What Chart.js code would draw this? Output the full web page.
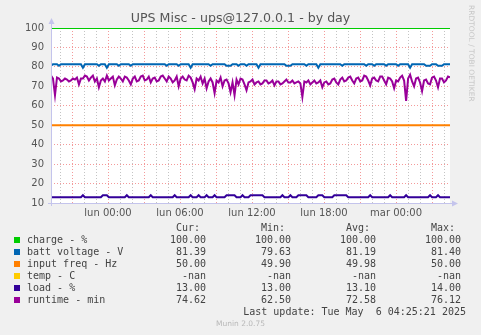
<!DOCTYPE html>
<html><head><meta charset="utf-8">
<script src="https://cdn.jsdelivr.net/npm/chart.js@4/dist/chart.umd.min.js"></script>
<style>
body{margin:0;background:#f0f0f0;}
#wrap{position:relative;width:481px;height:335px;overflow:hidden;background:#f0f0f0;}
canvas{position:absolute;left:0;top:0;}
.t{position:absolute;white-space:pre;}
#title{left:0;width:481px;top:10px;text-align:center;font:12.6px "DejaVu Sans";color:#555;}
#rrd{left:462px;top:5px;font:7.5px "DejaVu Sans";color:#c8c8c8;transform-origin:0 0;transform:rotate(90deg) translate(0,-14px);}
.lg{font:10px "DejaVu Sans Mono";color:#444;line-height:12px;}
.sq{position:absolute;width:6px;height:6px;}
#munin{left:0;width:481px;top:319px;text-align:center;font:7.5px "DejaVu Sans";color:#b8b8b8;}
</style></head><body>
<div id="wrap">
<canvas id="c" width="481" height="335"></canvas>
<div class="t" id="title">UPS Misc - ups@127.0.0.1 - by day</div>
<div class="t" id="rrd">RRDTOOL / TOBI OETIKER</div>
<div id="legend"></div>
<div class="t lg" id="upd" style="right:15px;top:306px;">Last update: Tue May  6 04:25:21 2025</div>
<div class="t" id="munin">Munin 2.0.75</div>
</div>
<script>
// ---- data ----
const xTickHours = [0, 6, 12, 18, 24];
const xTickLabels = ["lun 00:00", "lun 06:00", "lun 12:00", "lun 18:00", "mar 00:00"];
const startHour = -4.75, endHour = 28.5;
const yTickValues = [10, 20, 30, 40, 50, 60, 70, 80, 90, 100];

const seriesNames = ["charge - %", "batt voltage - V", "input freq - Hz", "temp - C", "load - %", "runtime - min"];
const seriesColors = ["#00cc00", "#0066b3", "#ff8000", "#ffcc00", "#330099", "#990099"];
const curVals = ["100.00", "81.39", "50.00", "-nan", "13.00", "74.62"];
const minVals = ["100.00", "79.63", "49.90", "-nan", "13.00", "62.50"];
const avgVals = ["100.00", "81.19", "49.98", "-nan", "13.10", "72.58"];
const maxVals = ["100.00", "81.40", "50.00", "-nan", "14.00", "76.12"];

const chargeVals = [100, 100];
const freqVals = [50, 50];

const battVals = [
 80.6,81.4,81.4,81.4,80.6,81.4,81.4,81.4,81.4,81.4, 81.4,81.4,81.4,81.4,81.4,81.4,79.6,81.4,81.4,81.4,
 81.4,81.4,81.4,81.4,80.6,81.4,81.4,81.4,79.6,81.4, 81.4,81.4,81.4,81.4,80.6,81.4,81.4,81.4,81.4,81.4,
 80.6,81.4,81.4,81.4,81.4,81.4,81.4,81.4,81.4,81.4, 81.4,81.4,81.4,81.4,81.4,81.4,81.4,81.4,80.6,81.4,
 81.4,81.4,81.4,81.4,80.6,81.4,81.4,81.4,81.4,81.4, 79.6,81.4,81.4,81.4,81.4,81.4,81.4,81.4,81.4,81.4,
 80.6,81.4,81.4,81.4,81.4,81.4,81.4,81.4,80.6,80.6, 80.6,81.4,81.4,81.4,80.6,81.4,81.4,81.4,80.6,81.4,
 81.4,81.4,81.4,81.4,79.6,81.4,81.4,81.4,81.4,81.4, 81.4,81.4,81.4,81.4,81.4,81.4,81.4,81.4,80.6,80.6,
 80.6,81.4,81.4,81.4,81.4,81.4,81.4,81.4,80.6,81.4, 81.4,81.4,81.4,81.4,79.6,81.4,81.4,81.4,81.4,81.4,
 81.4,81.4,81.4,81.4,81.4,81.4,80.6,81.4,81.4,81.4, 81.4,81.4,81.4,81.4,81.4,81.4,81.4,81.4,80.6,81.4,
 81.4,81.4,80.6,81.4,81.4,81.4,81.4,81.4,80.6,81.4, 81.4,81.4,81.4,81.4,80.6,81.4,81.4,81.4,81.4,81.4,
 79.6,81.4,81.4,81.4,81.4,81.4,81.4,81.4,80.6,80.6, 80.6,81.4,81.4,81.4,80.6,80.6,80.6,81.4,81.4,81.4,
 81.39];

const loadVals = [
 13,13,13,13,13,13,13,13,13,13, 13,13,13,13,13,13,14,13,13,13,
 13,13,13,13,13,13,14,14,14,13, 13,13,13,13,13,13,13,13,14,13,
 13,13,13,13,13,13,13,13,13,13, 14,13,13,13,13,13,13,13,13,13,
 13,13,14,13,13,13,13,13,13,13, 14,13,13,13,14,13,13,13,14,13,
 13,13,14,13,13,13,13,13,14,14, 14,14,14,13,13,13,14,13,13,13,
 14,14,14,14,14,14,14,13,13,13, 13,13,13,13,13,13,14,13,13,13,
 14,13,13,13,14,14,14,14,14,13, 13,13,13,13,14,14,14,13,13,13,
 13,13,14,14,14,14,14,14,14,13, 13,13,13,13,13,13,13,13,13,13,
 14,13,13,13,13,13,13,13,13,13, 14,13,13,13,13,13,13,13,14,13,
 13,13,13,13,13,13,13,13,13,13, 14,13,13,13,14,13,13,13,13,13,
 13];

const runtimeVals = [
 75.5,74,65.5,74.5,74.0,72.5,73.0,74,73.5,72.5, 73.0,74,73.5,74.5,71.0,74,74.0,75.5,75.0,73,
 74.5,75.5,72.5,74,69.5,73,74.0,72.5,75.5,73, 74.0,75,70.5,73.5,75.0,74,72.5,75,74.5,73,
 71.0,74,75.0,72.5,73.0,75,75.5,73,73.5,75, 72.0,74,74.5,72.5,73.0,75,75.5,74,72.5,75,
 74.0,72,73.0,75,70.0,74,75.0,73.5,73.0,75.5, 74.5,72,68.5,74,73.0,75,71.5,74,69.0,72.5,
 74.0,72,66.5,73,72.0,74.5,70.0,73,73.5,71.5, 67.0,72,65.5,73.5,71.0,74,73.5,71,68.0,72,
 72.5,73.5,71.0,72,72.5,71,71.5,73,73.0,71.5, 72.0,73,70.5,72.5,72.5,71,71.5,72.5,73.5,72,
 72.0,73,71.5,72,72.5,71.5,64.5,72.5,72.0,73, 71.0,72,73.0,71.5,72.0,73,69.5,72,72.5,71,
 71.5,73.5,74.0,72,71.0,73.5,74.5,72.5,73.0,74.5, 75.0,73,71.5,74,74.5,72.5,73.0,75.5,75.0,73,
 70.5,74,74.5,73,72.5,75,75.0,73,71.0,74.5, 74.0,72.5,69.0,73,72.5,74.5,75.5,73,62.5,74,
 76.0,72.5,70.0,74,74.5,72,67.5,73,73.5,71.5, 71.0,74.5,75.0,73,69.5,74,74.0,72,73.0,75,
 74.62];

// ---- build ----
const pts = vals => vals.map((v, i) => ({x: startHour + i * (endHour - startHour) / (vals.length - 1), y: v}));

const gridRed = 'rgba(240,120,120,0.75)';
const gridGray = 'rgba(190,190,190,0.9)';
const axisCol = 'rgb(196,196,236)';

const bgPlugin = {
  id: 'bg',
  beforeDraw(chart) {
    const {ctx, chartArea: a} = chart;
    ctx.save(); ctx.fillStyle = '#ffffff';
    ctx.fillRect(a.left, a.top, a.right - a.left, a.bottom - a.top);
    ctx.restore();
  },
  afterDraw(chart) {
    const {ctx, chartArea: a} = chart;
    ctx.save();
    ctx.strokeStyle = axisCol; ctx.fillStyle = axisCol; ctx.lineWidth = 1;
    ctx.beginPath();
    ctx.moveTo(a.left + 0.5, a.bottom + 3); ctx.lineTo(a.left + 0.5, a.top - 6);
    ctx.moveTo(a.left - 3, a.bottom + 0.5); ctx.lineTo(a.right + 3, a.bottom + 0.5);
    ctx.stroke();
    ctx.beginPath();
    ctx.moveTo(a.left - 2.5, a.top - 4); ctx.lineTo(a.left + 3.5, a.top - 4); ctx.lineTo(a.left + 0.5, a.top - 10); ctx.closePath(); ctx.fill();
    ctx.beginPath();
    ctx.moveTo(a.right + 2, a.bottom - 2.5); ctx.lineTo(a.right + 2, a.bottom + 3.5); ctx.lineTo(a.right + 8, a.bottom + 0.5); ctx.closePath(); ctx.fill();
    ctx.restore();
  }
};

const ds = (label, data, color) => ({label, data, borderColor: color, backgroundColor: color, borderWidth: 2, pointRadius: 0, tension: 0, fill: false});

new Chart(document.getElementById('c'), {
  type: 'line',
  data: {
    datasets: [
      ds(seriesNames[5], pts(runtimeVals), seriesColors[5]),
      ds(seriesNames[4], pts(loadVals), seriesColors[4]),
      ds(seriesNames[2], pts(freqVals), seriesColors[2]),
      ds(seriesNames[1], pts(battVals), seriesColors[1]),
      ds(seriesNames[0], pts(chargeVals), seriesColors[0])
    ]
  },
  options: {
    responsive: false, animation: false,
    layout: {padding: {left: 0, top: 28, right: 31, bottom: 0}},
    plugins: {legend: {display: false}, tooltip: {enabled: false}, title: {display: false}},
    scales: {
      x: {
        type: 'linear', min: startHour, max: endHour,
        afterFit: s => { s.height = 132; },
        afterBuildTicks: s => {
          const t = [];
          for (let h = Math.ceil(startHour); h <= Math.floor(endHour); h++) t.push({value: h});
          s.ticks = t;
        },
        ticks: {
          autoSkip: false, maxRotation: 0, padding: 4, color: '#555',
          font: {family: 'DejaVu Sans', size: 10},
          callback: v => { const k = xTickHours.indexOf(v); return k >= 0 ? xTickLabels[k] : ''; }
        },
        grid: {
          drawTicks: false,
          color: c => (c.tick && c.tick.value % 3 === 0) ? gridRed : gridGray,
          borderDash: [1, 2]
        },
        border: {display: false, dash: [1, 2]}
      },
      y: {
        min: 10, max: 100,
        afterFit: s => { s.width = 51; },
        afterBuildTicks: s => {
          const t = [];
          for (let v = 10; v <= 100; v += 5) t.push({value: v});
          s.ticks = t;
        },
        ticks: {
          padding: 7, color: '#555',
          font: {family: 'DejaVu Sans', size: 10},
          callback: v => yTickValues.includes(v) ? String(v) : ''
        },
        grid: {
          drawTicks: false,
          color: c => (c.tick && c.tick.value % 10 === 0) ? gridRed : gridGray,
          borderDash: [1, 2]
        },
        border: {display: false, dash: [1, 2]}
      }
    }
  },
  plugins: [bgPlugin]
});

// ---- legend text ----
const lg = document.getElementById('legend');
const colRight = [206, 291, 376, 461];
const headers = ["Cur:", "Min:", "Avg:", "Max:"];
function addText(txt, rightX, top) {
  const d = document.createElement('div');
  d.className = 't lg'; d.textContent = txt;
  d.style.right = (481 - rightX) + 'px'; d.style.top = top + 'px';
  lg.appendChild(d);
}
headers.forEach((h, k) => addText(h, colRight[k] - 6, 222));
seriesNames.forEach((n, i) => {
  const top = 234 + i * 12;
  const sq = document.createElement('div');
  sq.className = 'sq'; sq.style.left = '14px'; sq.style.top = (top + 3) + 'px'; sq.style.background = seriesColors[i];
  lg.appendChild(sq);
  const d = document.createElement('div');
  d.className = 't lg'; d.textContent = n; d.style.left = '27px'; d.style.top = top + 'px';
  lg.appendChild(d);
  [curVals, minVals, avgVals, maxVals].forEach((arr, k) => addText(arr[i], colRight[k], top));
});
</script>
</body></html>
